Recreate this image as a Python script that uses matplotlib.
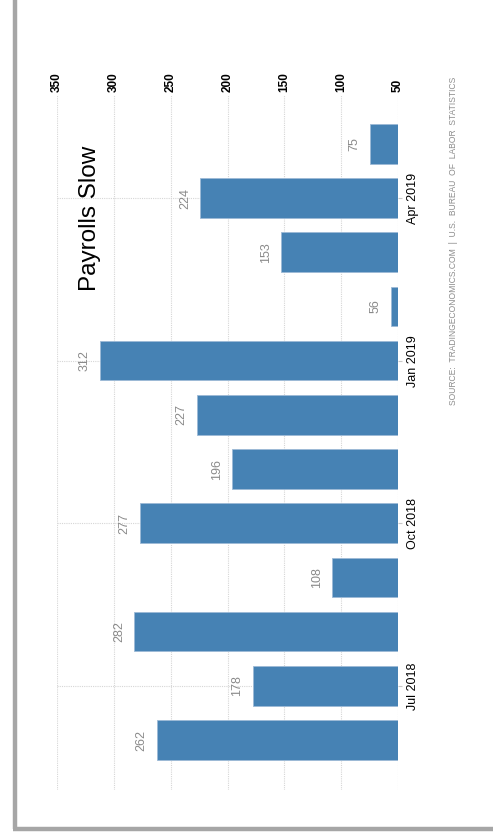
import matplotlib
matplotlib.use("Agg")
import matplotlib.pyplot as plt
from matplotlib.lines import Line2D
from matplotlib import font_manager

months = ["Jun 2018", "Jul 2018", "Aug 2018", "Sep 2018", "Oct 2018", "Nov 2018",
          "Dec 2018", "Jan 2019", "Feb 2019", "Mar 2019", "Apr 2019", "May 2019"]
payrolls = [262, 178, 282, 108, 277, 196, 227, 312, 56, 153, 224, 75]
value_ticks = [350, 300, 250, 200, 150, 100, 50]
month_ticks = ["Jul 2018", "Oct 2018", "Jan 2019", "Apr 2019"]
title = "Payrolls Slow"
source = "SOURCE:  TRADINGECONOMICS.COM  |  U.S.  BUREAU  OF  LABOR  STATISTICS"
baseline = 50

names = {f.name for f in font_manager.fontManager.ttflist}
plain = "Liberation Sans" if "Liberation Sans" in names else "DejaVu Sans"
fam = [plain, "DejaVu Sans"]

W, H = 493, 834
fig = plt.figure(figsize=(W / 100, H / 100), dpi=100)
fig.patch.set_facecolor("white")

left, right, top, bottom = 57, 398, 95, 790
ax = fig.add_axes([left / W, 1 - bottom / H, (right - left) / W, (bottom - top) / H])

ypos = list(range(len(months)))
widths = [v - baseline for v in payrolls]
ax.barh(ypos, widths, left=baseline, height=0.73, color="#4682b4",
        edgecolor="#9dbad6", linewidth=0.6, zorder=3)

for y, v in zip(ypos, payrolls):
    ax.annotate(str(v), xy=(v, y), xytext=(-11, 0), textcoords="offset points",
                rotation=90, ha="center", va="center", fontsize=9,
                color="#8a8a8a", family=fam)

ax.set_xlim(350, 50)
ax.set_ylim(-0.92, 11.9)

ax.xaxis.tick_top()
ax.set_xticks(value_ticks)
ax.set_xticklabels([str(t) for t in value_ticks], rotation=90, fontsize=8.5,
                   fontweight="bold", family=fam, va="bottom")
ax.tick_params(axis="x", length=0, pad=2.5)

ax.yaxis.tick_right()
ax.set_yticks([months.index(m) for m in month_ticks])
ax.set_yticklabels(month_ticks, rotation=90, fontsize=9, va="center", ha="left",
                   family=fam)
ax.tick_params(axis="y", length=3, color="#c8c8c8", pad=3.5)

ax.grid(True, which="major", axis="both", linestyle=(0, (1, 1)), color="#d6d6d6",
        linewidth=0.8, zorder=0)
ax.set_axisbelow(True)
for s in ax.spines.values():
    s.set_visible(False)

fig.text(90 / W, 1 - 218 / H, title, rotation=90, ha="center", va="center",
         fontsize=17.5, family=fam, color="black")
fig.text(453 / W, 1 - 241 / H, source, rotation=90, ha="center", va="center",
         fontsize=6.15, family=fam, color="#8c8c8c")

# frame border
fig.add_artist(Line2D([15 / W, 15 / W], [1 - 829 / H, 1.0], transform=fig.transFigure,
                      color="#a6a6a6", linewidth=3.2, solid_capstyle="butt"))
fig.add_artist(Line2D([13.4 / W, 1.0], [1 - 829 / H, 1 - 829 / H], transform=fig.transFigure,
                      color="#a6a6a6", linewidth=3.2, solid_capstyle="butt"))

fig.savefig("out.png", dpi=100, facecolor="white")
